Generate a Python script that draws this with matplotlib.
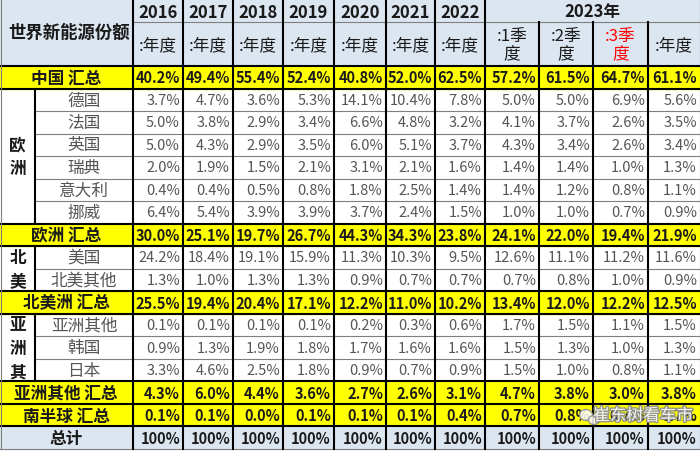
import numpy as np
import matplotlib.pyplot as plt
import matplotlib.patheffects as pe
from matplotlib.patches import Rectangle, Ellipse

plt.rcParams['font.family'] = ['Noto Sans CJK SC', 'DejaVu Sans']

# ---- data ----
title = '世界新能源份额'
years = ['2016', '2017', '2018', '2019', '2020', '2021', '2022']
year_2023 = '2023年'
sub_headers = [':年度'] * 7 + [':1季\n度', ':2季\n度', ':3季\n度', ':年度']

row_labels = ['中国 汇总', '德国', '法国', '英国', '瑞典', '意大利', '挪威', '欧洲 汇总',
              '美国', '北美其他', '北美洲 汇总', '亚洲其他', '韩国', '日本',
              '亚洲其他 汇总', '南半球 汇总', '总计']
# summary rows (yellow, bold)
summary_rows = [0, 7, 10, 14, 15]
total_row = 16
# region groups: (label, first row, last row)
groups = [('欧\n洲', 1, 6), ('北\n美', 8, 9), ('亚\n洲\n其', 11, 13)]

china = [40.2, 49.4, 55.4, 52.4, 40.8, 52.0, 62.5, 57.2, 61.5, 64.7, 61.1]
germany = [3.7, 4.7, 3.6, 5.3, 14.1, 10.4, 7.8, 5.0, 5.0, 6.9, 5.6]
france = [5.0, 3.8, 2.9, 3.4, 6.6, 4.8, 3.2, 4.1, 3.7, 2.6, 3.5]
uk = [5.0, 4.3, 2.9, 3.5, 6.0, 5.1, 3.7, 4.3, 3.4, 2.6, 3.4]
sweden = [2.0, 1.9, 1.5, 2.1, 3.1, 2.1, 1.6, 1.4, 1.4, 1.0, 1.3]
italy = [0.4, 0.4, 0.5, 0.8, 1.8, 2.5, 1.4, 1.4, 1.2, 0.8, 1.1]
norway = [6.4, 5.4, 3.9, 3.9, 3.7, 2.4, 1.5, 1.0, 1.0, 0.7, 0.9]
europe = [30.0, 25.1, 19.7, 26.7, 44.3, 34.3, 23.8, 24.1, 22.0, 19.4, 21.9]
usa = [24.2, 18.4, 19.1, 15.9, 11.3, 10.3, 9.5, 12.6, 11.1, 11.2, 11.6]
na_other = [1.3, 1.0, 1.3, 1.3, 0.9, 0.7, 0.7, 0.7, 0.8, 1.0, 0.9]
north_america = [25.5, 19.4, 20.4, 17.1, 12.2, 11.0, 10.2, 13.4, 12.0, 12.2, 12.5]
asia_other = [0.1, 0.1, 0.1, 0.1, 0.2, 0.3, 0.6, 1.7, 1.5, 1.1, 1.5]
korea = [0.9, 1.3, 1.9, 1.8, 1.7, 1.6, 1.6, 1.5, 1.3, 1.0, 1.3]
japan = [3.3, 4.6, 2.5, 1.8, 0.9, 0.7, 0.9, 1.5, 1.0, 0.8, 1.1]
asia_total = [4.3, 6.0, 4.4, 3.6, 2.7, 2.6, 3.1, 4.7, 3.8, 3.0, 3.8]
southern = [0.1, 0.1, 0.0, 0.1, 0.1, 0.1, 0.4, 0.7, 0.8, 0.7, 0.7]
total = [100] * 11

table = [china, germany, france, uk, sweden, italy, norway, europe, usa, na_other,
         north_america, asia_other, korea, japan, asia_total, southern, total]

# ---- layout (pixels) ----
col_edges = [133, 183, 233, 283, 334, 386, 435, 485, 539, 593, 648, 700]
sub_x = 35
h1, h2 = 23, 67
row_edges = np.linspace(h2, 450, len(row_labels) + 1)

blue = '#DCE6F1'
yellow = '#FFFF00'
dark = '#1a1a1a'
gray_txt = '#555555'

fig = plt.figure(figsize=(7, 4.52), dpi=100)
ax = fig.add_axes([0, 0, 1, 1])
ax.set_xlim(0, 700)
ax.set_ylim(452, 0)
ax.axis('off')

# header background
ax.add_patch(Rectangle((0, 0), 700, h2, color=blue, zorder=0))
ax.text(8, h2 / 2 - 1, title, ha='left', va='center', fontsize=12.5, fontweight='bold', color=dark)

for i, y in enumerate(years):
    xc = (col_edges[i] + col_edges[i + 1]) / 2
    ax.text(xc, h1 / 2 + 1, y, ha='center', va='center', fontsize=12, fontweight='bold', color=dark)
ax.text((col_edges[7] + col_edges[11]) / 2, h1 / 2 + 1, year_2023, ha='center', va='center',
        fontsize=12, fontweight='bold', color=dark)
for i, s in enumerate(sub_headers):
    xc = (col_edges[i] + col_edges[i + 1]) / 2
    c = 'red' if i == 9 else dark
    ax.text(xc, (h1 + h2) / 2 + 1, s, ha='center', va='center', fontsize=12, color=c,
            linespacing=1.1)

# body rows
for r, (lab, vals) in enumerate(zip(row_labels, table)):
    y0, y1 = row_edges[r], row_edges[r + 1]
    yc = (y0 + y1) / 2
    if r in summary_rows or r == total_row:
        bg = yellow if r in summary_rows else blue
        ax.add_patch(Rectangle((0, y0), 700, y1 - y0, color=bg, zorder=0))
        ax.text(66, yc, lab, ha='center', va='center', fontsize=12, fontweight='bold', color=dark)
        tc, fw = dark, 'bold'
    else:
        ax.text((sub_x + col_edges[0]) / 2, yc, lab, ha='center', va='center', fontsize=12, color=gray_txt)
        tc, fw = gray_txt, 'normal'
    for i, v in enumerate(vals):
        s = f'{v}%' if r == total_row else f'{v:.1f}%'
        ax.text(col_edges[i + 1] - 3, yc, s, ha='right', va='center', fontsize=10.5,
                fontweight=fw, color=tc)

for lab, a, b in groups:
    yc = (row_edges[a] + row_edges[b + 1]) / 2
    ax.text(sub_x / 2, yc, lab, ha='center', va='center', fontsize=12, fontweight='bold',
            color=dark, linespacing=1.45)

# ---- grid lines ----
# horizontal
ax.plot([col_edges[0], 700], [h1, h1], color='#7f7f7f', lw=0.8)
ax.plot([0, 700], [h2, h2], color='black', lw=1.5)
for r in range(1, len(row_labels)):
    y = row_edges[r]
    if r in summary_rows or r - 1 in summary_rows or r == total_row:
        ax.plot([0, 700], [y, y], color='black', lw=1.5)
    else:
        ax.plot([sub_x, 700], [y, y], color='#7f7f7f', lw=0.8)
ax.plot([0, 700], [row_edges[-1], row_edges[-1]], color='#7f7f7f', lw=0.8)

# vertical
ax.plot([0.5, 0.5], [0, row_edges[-1]], color='#7f7f7f', lw=0.8)
ax.plot([col_edges[0], col_edges[0]], [0, row_edges[-1]], color='black', lw=1.5)
for i, x in enumerate(col_edges[1:-1], start=1):
    top = h1 if 7 < i < 11 else 0
    ax.plot([x, x], [top, row_edges[-1]], color='black', lw=1.5)
for lab, a, b in groups:
    ax.plot([sub_x, sub_x], [row_edges[a], row_edges[b + 1]], color='black', lw=1.5)
ax.plot([699.5, 699.5], [0, row_edges[-1]], color='#7f7f7f', lw=0.8)

# watermark
halo = [pe.withStroke(linewidth=2, foreground='#8a8a8a')]
ax.add_patch(Ellipse((586, 416), 13, 11, facecolor='white', edgecolor='#8a8a8a', lw=1, alpha=0.85, zorder=5))
ax.add_patch(Ellipse((594, 421), 11, 9, facecolor='white', edgecolor='#8a8a8a', lw=1, alpha=0.85, zorder=5))
ax.text(643, 417, '崔东树看车市', ha='center', va='center', fontsize=12, color='white',
        alpha=0.9, path_effects=halo, zorder=6)

fig.savefig('out.png', dpi=100)
